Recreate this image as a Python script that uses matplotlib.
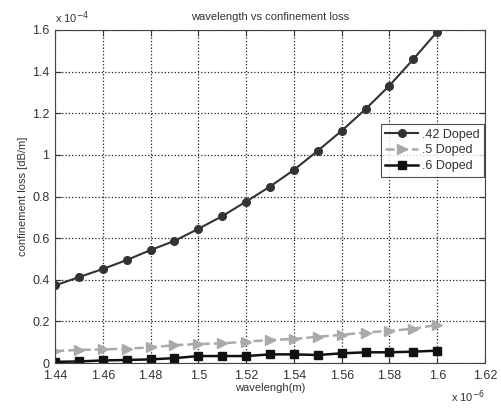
import numpy as np
import matplotlib.pyplot as plt

plt.rcParams['font.family'] = ['Liberation Sans', 'DejaVu Sans']

# wavelength in units of 1e-6 m, loss in units of 1e-4 dB/m
wavelength = [1.44, 1.45, 1.46, 1.47, 1.48, 1.49, 1.50, 1.51, 1.52,
              1.53, 1.54, 1.55, 1.56, 1.57, 1.58, 1.59, 1.60]
loss_042 = [0.373, 0.413, 0.452, 0.495, 0.543, 0.587, 0.645, 0.706, 0.776,
            0.848, 0.928, 1.020, 1.116, 1.220, 1.333, 1.460, 1.592]
loss_05 = [0.058, 0.063, 0.066, 0.069, 0.076, 0.086, 0.092, 0.095, 0.103,
           0.111, 0.116, 0.127, 0.136, 0.147, 0.155, 0.165, 0.184]
loss_06 = [0.006, 0.008, 0.013, 0.015, 0.018, 0.024, 0.034, 0.034, 0.034,
           0.042, 0.042, 0.039, 0.047, 0.052, 0.052, 0.055, 0.060]

xticks = [1.44, 1.46, 1.48, 1.5, 1.52, 1.54, 1.56, 1.58, 1.6, 1.62]
xticklabels = ['1.44', '1.46', '1.48', '1.5', '1.52', '1.54', '1.56', '1.58', '1.6', '1.62']
yticks = [0, 0.2, 0.4, 0.6, 0.8, 1.0, 1.2, 1.4, 1.6]
yticklabels = ['0', '0.2', '0.4', '0.6', '0.8', '1', '1.2', '1.4', '1.6']

txt = '#333333'
fig = plt.figure(figsize=(5.02, 4.08), dpi=100)
ax = fig.add_axes([0.1096, 0.110, 0.8566, 0.8165])

ax.plot(wavelength, loss_042, '-o', color='#333333', lw=1.5, ms=5.5, label='.42 Doped')
ax.plot(wavelength, loss_05, '--', marker='>', color='#aaaaaa', lw=1.8, ms=7, label='.5 Doped')
ax.plot(wavelength, loss_06, '-s', color='#111111', lw=1.8, ms=6, label='.6 Doped')

ax.set_xlim(1.44, 1.62)
ax.set_ylim(0, 1.6)
ax.set_xticks(xticks)
ax.set_xticklabels(xticklabels)
ax.set_yticks(yticks)
ax.set_yticklabels(yticklabels)
ax.tick_params(direction='in', top=True, right=True, labelsize=9, colors=txt, length=4)
ax.tick_params(axis='x', pad=5)
ax.tick_params(axis='y', pad=4)
for s in ax.spines.values():
    s.set_color('#444444')
    s.set_linewidth(0.8)
ax.grid(True, linestyle=':', color='#222222', lw=0.9)

ax.set_title('wavelength vs confinement loss', fontsize=8, color=txt, pad=7)
ax.set_xlabel('wavelengh(m)', fontsize=8, color=txt, labelpad=1)
ax.set_ylabel('confinement loss [dB/m]', fontsize=8, color=txt, labelpad=3)

ax.text(0.0, 1.012, r'x 10$^{-4}$', transform=ax.transAxes, fontsize=8, color=txt,
        ha='left', va='bottom')
ax.text(0.96, -0.10, r'x 10$^{-6}$', transform=ax.transAxes, fontsize=8, color=txt,
        ha='center', va='center')

leg = ax.legend(loc='upper right', bbox_to_anchor=(0.997, 0.717), fontsize=9,
                frameon=True, fancybox=False, edgecolor='#222222', handlelength=2.6,
                borderpad=0.35, labelspacing=0.3, handletextpad=0.3, borderaxespad=0)
leg.get_frame().set_linewidth(0.8)
for t in leg.get_texts():
    t.set_color(txt)

fig.savefig('out.png', dpi=100)
